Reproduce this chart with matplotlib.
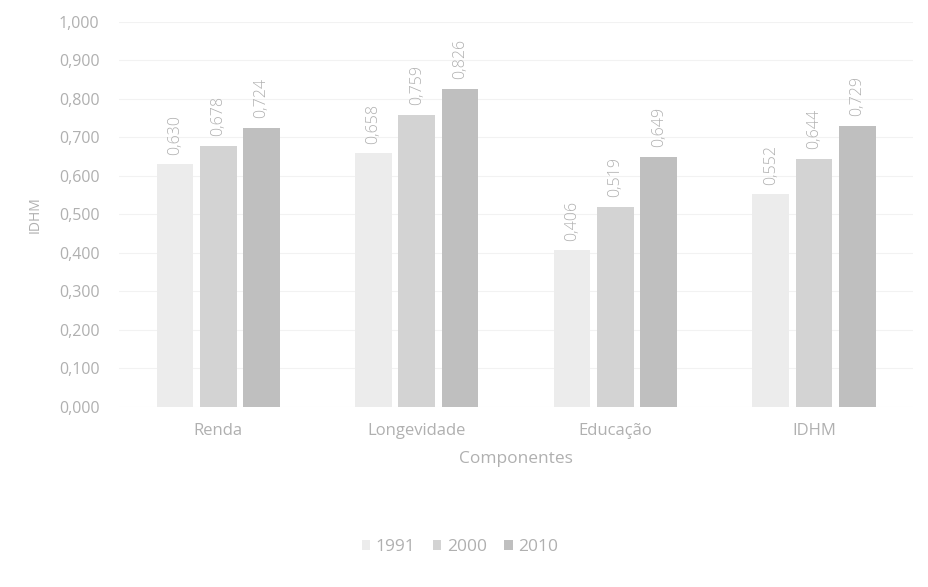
import matplotlib.pyplot as plt
import numpy as np

plt.rcParams['font.family'] = ['Open Sans', 'DejaVu Sans']

# Dados
componentes = ["Renda", "Longevidade", "Educação", "IDHM"]
anos = ["1991", "2000", "2010"]
v1991 = [0.630, 0.658, 0.406, 0.552]
v2000 = [0.678, 0.759, 0.519, 0.644]
v2010 = [0.724, 0.826, 0.649, 0.729]

series = [v1991, v2000, v2010]
cores = ['#ececec', '#d3d3d3', '#bfbfbf']
texto = '#b0b0b0'

x = np.arange(len(componentes))
largura = 0.185
passo = 0.218

fig = plt.figure(figsize=(9.29, 5.87), dpi=100)
ax = fig.add_axes([0.128, 0.307, 0.855, 0.656])

for i, (vals, cor, ano) in enumerate(zip(series, cores, anos)):
    pos = x + (i - 1) * passo
    ax.bar(pos, vals, width=largura, color=cor, label=ano, zorder=2)
    for p, v in zip(pos, vals):
        ax.text(p, v + 0.025, f"{v:.3f}".replace('.', ','), rotation=90,
                ha='center', va='bottom', fontsize=11.5, color=texto,
                fontweight='light')

ax.set_xlim(-0.5, 3.5)
ax.set_ylim(0, 1.0)
ticks = np.arange(0, 1.01, 0.1)
ax.set_yticks(ticks)
ax.set_yticklabels([f"{t:.3f}".replace('.', ',') for t in ticks])
ax.set_xticks(x)
ax.set_xticklabels(componentes)
ax.tick_params(axis='y', colors=texto, labelsize=11.5, length=0, pad=14)
ax.tick_params(axis='x', colors=texto, labelsize=12, length=0, pad=12)
ax.grid(axis='y', color='#f2f2f2', linewidth=0.8, zorder=0)
for s in ax.spines.values():
    s.set_visible(False)

ax.set_ylabel("IDHM", color=texto, fontsize=10, labelpad=12)
ax.set_xlabel("Componentes", color=texto, fontsize=12.5, labelpad=8)

fig.legend(loc='center', bbox_to_anchor=(0.495, 0.068), ncol=3, frameon=False,
           fontsize=12.5, labelcolor=texto, handlelength=0.5, handleheight=0.5,
           handletextpad=0.3, columnspacing=1.0)

fig.savefig("out.png", dpi=100, facecolor='white')
